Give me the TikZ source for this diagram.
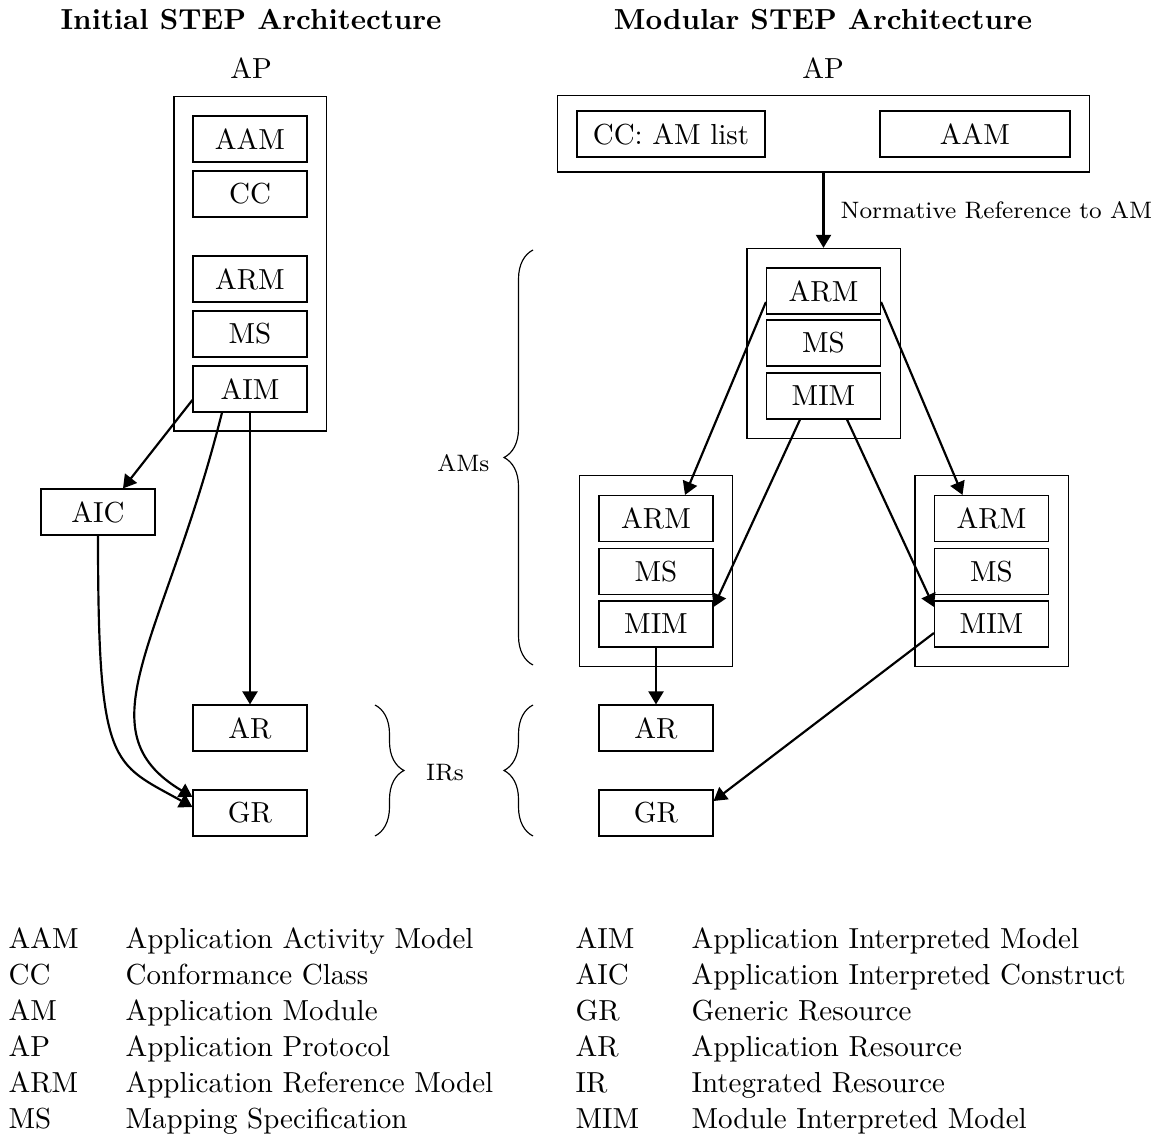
\documentclass[tikz,border=0pt]{standalone}
\usetikzlibrary{arrows.meta,calc,fit,decorations.pathreplacing}
\newlength\pxu
\setlength\pxu{0.345pt}
\begin{document}
\begin{tikzpicture}[x=0.345pt, y=-0.345pt,
  box/.style={draw, line width=0.4pt, minimum width=114*\pxu, minimum height=46*\pxu, inner sep=0pt},
  outer/.style={draw, line width=0.4pt, inner sep=19*\pxu},
  arr/.style={-{Triangle[length=4.5pt,width=5.2pt]}, line width=0.75pt},
  brc/.style={decorate, decoration={brace, amplitude=10pt}, line width=0.4pt},
  note/.style={font=\fontsize{8.2}{10}\selectfont, inner sep=0pt},
  lg/.style={anchor=base west, inner sep=0pt}]
\useasboundingbox (0,0) rectangle (1153,1135);

% ---------- Initial STEP architecture ----------
\node[font=\bfseries] (title1) at (251,20) {Initial STEP Architecture};
\node (ap1) at (251,68) {AP};
\node[box] (AAM1) at (250,139) {AAM};
\node[box] (CC1)  at (250,194) {CC};
\node[box] (ARM1) at (250,279) {ARM};
\node[box] (MS1)  at (250,334) {MS};
\node[box] (AIM1) at (250,389) {AIM};
\node[outer, fit=(AAM1)(AIM1), inner sep=18.5*\pxu] (APbox1) {};
\node[box] (AIC) at (98,512) {AIC};
\node[box] (AR1) at (250,728) {AR};
\node[box] (GR1) at (250,813) {GR};

\draw[arr] ($(AIM1.west)+(0,11)$) -- ($(AIC.north)+(25,0)$);
\draw[arr] (AIM1.south) -- (AR1.north);
\draw[arr] ($(AIM1.south)+(-28,0)$) .. controls (165,640) and (80,730) .. ($(GR1.west)+(0,-16)$);
\draw[arr] (AIC.south) .. controls (98,770) and (112,762) .. ($(GR1.west)+(0,-6)$);

% ---------- Modular STEP architecture ----------
\node[font=\bfseries] (title2) at (823,20) {Modular STEP Architecture};
\node (ap2) at (823,68) {AP};
\node[box, minimum width=188*\pxu] (CCL)  at (671,134) {CC: AM list};
\node[box, minimum width=190*\pxu] (AAM2) at (975,134) {AAM};
\node[outer, fit=(CCL)(AAM2), inner xsep=19*\pxu, inner ysep=14.5*\pxu] (APbox2) {};

% top application module
\node[box] (tARM) at (823.5,291) {ARM};
\node[box] (tMS)  at (823.5,343) {MS};
\node[box] (tMIM) at (823.5,396) {MIM};
\node[outer, fit=(tARM)(tMIM)] (tAM) {};

% left application module
\node[box] (lARM) at (656,518.5) {ARM};
\node[box] (lMS)  at (656,571.5) {MS};
\node[box] (lMIM) at (656,624) {MIM};
\node[outer, fit=(lARM)(lMIM)] (lAM) {};

% right application module
\node[box] (rARM) at (991.5,518.5) {ARM};
\node[box] (rMS)  at (991.5,571.5) {MS};
\node[box] (rMIM) at (991.5,624) {MIM};
\node[outer, fit=(rARM)(rMIM)] (rAM) {};

\node[box] (AR2) at (656,728) {AR};
\node[box] (GR2) at (656,813) {GR};

\draw[arr] (APbox2.south) -- (tAM.north)
  node[note, pos=0.5, anchor=west, xshift=16*\pxu] (nref) {Normative Reference to AM};
\draw[arr] ($(tARM.west)+(0,11)$) -- ($(lARM.north)+(29,0)$);
\draw[arr] ($(tARM.east)+(0,11)$) -- ($(rARM.north)+(-29,0)$);
\draw[arr] ($(tMIM.south)+(-23.5,0)$) -- ($(lMIM.east)+(0,-17)$);
\draw[arr] ($(tMIM.south)+(23.5,0)$) -- ($(rMIM.west)+(0,-17)$);
\draw[arr] ($(rMIM.west)+(0,9)$) -- ($(GR2.east)+(0,-12)$);
\draw[arr] (lMIM.south) -- (AR2.north);

% ---------- braces ----------
\coordinate (amsB) at (533,665);
\coordinate (amsT) at (533,250);
\draw[brc] (amsB) -- (amsT);
\node[note, anchor=east] (ams) at (490,463) {AMs};
\coordinate (irLT) at (375,705);
\coordinate (irLB) at (375,836);
\draw[brc] (irLT) -- (irLB);
\coordinate (irRB) at (533,836);
\coordinate (irRT) at (533,705);
\draw[brc] (irRB) -- (irRT);
\node[note] (irs) at (445,773) {IRs};

% ---------- legend ----------
\foreach \a/\b [count=\i] in {AAM/Application Activity Model, CC/Conformance Class,
    AM/Application Module, AP/Application Protocol,
    ARM/Application Reference Model, MS/Mapping Specification} {
  \node[lg] (la\i) at (8,{948+36*(\i-1)}) {\a};
  \node[lg] (lb\i) at (125,{948+36*(\i-1)}) {\b};
}
\foreach \a/\b [count=\i] in {AIM/Application Interpreted Model, AIC/Application Interpreted Construct,
    GR/Generic Resource, AR/Application Resource,
    IR/Integrated Resource, MIM/Module Interpreted Model} {
  \node[lg] (ra\i) at (575,{948+36*(\i-1)}) {\a};
  \node[lg] (rb\i) at (691,{948+36*(\i-1)}) {\b};
}
\end{tikzpicture}
\end{document}
